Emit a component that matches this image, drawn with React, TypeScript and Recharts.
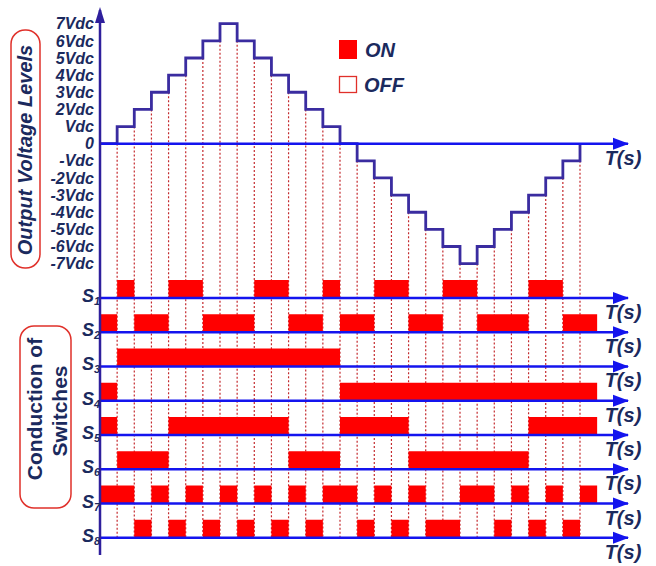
import React from "react";
import {
  ComposedChart,
  Line,
  Area,
  XAxis,
  YAxis,
  ReferenceLine,
  ReferenceDot,
} from "recharts";

// output level (in Vdc) for each time slot 0..28
const levels = [0, 1, 2, 3, 4, 5, 6, 7, 6, 5, 4, 3, 2, 1, 0, -1, -2, -3, -4, -5, -6, -7, -6, -5, -4, -3, -2, -1, 0];

// switch states per time slot (1 = ON)
const s1 = [0, 1, 0, 0, 1, 1, 0, 0, 0, 1, 1, 0, 0, 1, 0, 0, 1, 1, 0, 0, 1, 1, 0, 0, 0, 1, 1, 0, 0];
const s2 = [1, 0, 1, 1, 0, 0, 1, 1, 1, 0, 0, 1, 1, 0, 1, 1, 0, 0, 1, 1, 0, 0, 1, 1, 1, 0, 0, 1, 1];
const s3 = [0, 1, 1, 1, 1, 1, 1, 1, 1, 1, 1, 1, 1, 1, 0, 0, 0, 0, 0, 0, 0, 0, 0, 0, 0, 0, 0, 0, 0];
const s4 = [1, 0, 0, 0, 0, 0, 0, 0, 0, 0, 0, 0, 0, 0, 1, 1, 1, 1, 1, 1, 1, 1, 1, 1, 1, 1, 1, 1, 1];
const s5 = [1, 0, 0, 0, 1, 1, 1, 1, 1, 1, 1, 0, 0, 0, 1, 1, 1, 1, 0, 0, 0, 0, 0, 0, 0, 1, 1, 1, 1];
const s6 = [0, 1, 1, 1, 0, 0, 0, 0, 0, 0, 0, 1, 1, 1, 0, 0, 0, 0, 1, 1, 1, 1, 1, 1, 1, 0, 0, 0, 0];
const s7 = [1, 1, 0, 1, 0, 1, 0, 1, 0, 1, 0, 1, 0, 1, 1, 0, 1, 0, 1, 0, 0, 1, 1, 0, 1, 0, 1, 0, 1];
const s8 = [0, 0, 1, 0, 1, 0, 1, 0, 1, 0, 1, 0, 1, 0, 0, 1, 0, 1, 0, 1, 1, 0, 0, 1, 0, 1, 0, 1, 0];

const switches = [s1, s2, s3, s4, s5, s6, s7, s8];
const switchNames = ["1", "2", "3", "4", "5", "6", "7", "8"];

const levelTicks = [7, 6, 5, 4, 3, 2, 1, 0, -1, -2, -3, -4, -5, -6, -7];
const levelLabels = ["7Vdc", "6Vdc", "5Vdc", "4Vdc", "3Vdc", "2Vdc", "Vdc", "0", "-Vdc", "-2Vdc", "-3Vdc", "-4Vdc", "-5Vdc", "-6Vdc", "-7Vdc"];

const FONT = "'Liberation Sans', Arial, sans-serif";
const NAVY = "#1b2a5e";
const AXIS = "#2e1f9c";
const BLUE = "#1414ee";
const WAVE = "#3a2ca0";
const RED = "#ff0000";
const DOTTED = "#c42a2e";

const T_END = 30.8;
const Y_MIN = -24;
const Y_MAX = 7.8;
const PULSE = 1.05;
const rowBase = (i: number) => -9 - 2 * i;

const data = Array.from({ length: levels.length + 1 }, (_, k) => {
  const row: Record<string, any> = { t: k, v: k < levels.length ? levels[k] : null };
  switches.forEach((s, i) => {
    const on = s[k] ?? 0;
    row[`s${i + 1}`] = [rowBase(i), rowBase(i) + (on ? PULSE : 0)];
  });
  return row;
});

// transitions: dotted guide from lower corner of each step down to S8
const edges = levels.slice(1).map((v, i) => ({ t: i + 1, top: Math.min(levels[i], v) }));

const arrowRight = (p: any) => (
  <g>
    <polygon
      points={`${p.cx + 1},${p.cy} ${p.cx - 15},${p.cy - 6} ${p.cx - 15},${p.cy + 6}`}
      fill={BLUE}
    />
    <text
      x={p.cx - 5}
      y={p.cy + 21}
      textAnchor="middle"
      fill={NAVY}
      fontFamily={FONT}
      fontWeight={700}
      fontStyle="italic"
      fontSize={20}
    >
      T(s)
    </text>
  </g>
);

const arrowUp = (p: any) => (
  <polygon
    points={`${p.cx},${p.cy - 3} ${p.cx - 5},${p.cy + 13} ${p.cx + 5},${p.cy + 13}`}
    fill={AXIS}
  />
);

const switchLabel = (name: string) => (p: any) => (
  <text
    x={p.cx - 18}
    y={p.cy + 4}
    textAnchor="start"
    fill={NAVY}
    fontFamily={FONT}
    fontWeight={700}
    fontStyle="italic"
    fontSize={18}
  >
    S
    <tspan fontSize={11} dy={3}>
      {name}
    </tspan>
  </text>
);

export default function App() {
  return (
    <div style={{ position: "absolute", left: 0, top: 0, width: 656, height: 566, background: "#fff" }}>
      <ComposedChart
        width={656}
        height={566}
        data={data}
        margin={{ top: 10, right: 28, bottom: 11, left: 10 }}
      >
        <XAxis dataKey="t" type="number" domain={[0, T_END]} allowDataOverflow hide />
        <YAxis
          type="number"
          domain={[Y_MIN, Y_MAX]}
          allowDataOverflow
          ticks={levelTicks}
          interval={0}
          width={90}
          tickLine={false}
          tickSize={0}
          tickMargin={6}
          axisLine={{ stroke: AXIS, strokeWidth: 2.5 }}
          tickFormatter={(v) => levelLabels[levelTicks.indexOf(v)] ?? ""}
          tick={{ fill: NAVY, fontSize: 16, fontWeight: 700, fontStyle: "italic", fontFamily: FONT }}
        />

        {edges.map((e) => (
          <ReferenceLine
            key={`e${e.t}`}
            segment={[
              { x: e.t, y: e.top },
              { x: e.t, y: rowBase(7) },
            ]}
            stroke={DOTTED}
            strokeWidth={1.2}
            strokeDasharray="2 2"
            zIndex={10}
          />
        ))}

        {switches.map((_, i) => (
          <Area
            key={`a${i}`}
            dataKey={`s${i + 1}`}
            type="stepAfter"
            stroke="none"
            fill={RED}
            fillOpacity={1}
            dot={false}
            activeDot={false}
            isAnimationActive={false}
            zIndex={300}
          />
        ))}

        <ReferenceLine y={0} stroke={BLUE} strokeWidth={2.5} zIndex={350} />
        {switches.map((_, i) => (
          <ReferenceLine key={`b${i}`} y={rowBase(i)} stroke={BLUE} strokeWidth={2.5} zIndex={350} />
        ))}

        <Line
          dataKey="v"
          type="stepAfter"
          stroke={WAVE}
          strokeWidth={2.8}
          dot={false}
          activeDot={false}
          connectNulls={false}
          isAnimationActive={false}
          zIndex={320}
        />

        <ReferenceDot x={0} y={Y_MAX} r={0} shape={arrowUp} />
        <ReferenceDot x={T_END} y={0} r={0} shape={arrowRight} />
        {switches.map((_, i) => (
          <ReferenceDot key={`r${i}`} x={T_END} y={rowBase(i)} r={0} shape={arrowRight} />
        ))}
        {switchNames.map((n, i) => (
          <ReferenceDot key={`l${i}`} x={0} y={rowBase(i)} r={0} shape={switchLabel(n)} />
        ))}
      </ComposedChart>

      <svg
        width={656}
        height={566}
        style={{ position: "absolute", left: 0, top: 0, pointerEvents: "none" }}
      >
        <rect x={11} y={30} width={29} height={238} rx={14} fill="none" stroke="#e0302a" strokeWidth={1.5} />
        <text
          transform="translate(32,150) rotate(-90)"
          textAnchor="middle"
          fill={NAVY}
          fontFamily={FONT}
          fontWeight={700}
          fontStyle="italic"
          fontSize={20}
        >
          Output Voltage Levels
        </text>

        <rect x={20} y={326} width={51} height={182} rx={14} fill="none" stroke="#e0302a" strokeWidth={1.5} />
        <text
          transform="translate(42,409) rotate(-90)"
          textAnchor="middle"
          fill={NAVY}
          fontFamily={FONT}
          fontWeight={700}
          fontSize={21}
        >
          Conduction of
        </text>
        <text
          transform="translate(67,411) rotate(-90)"
          textAnchor="middle"
          fill={NAVY}
          fontFamily={FONT}
          fontWeight={700}
          fontSize={21}
        >
          Switches
        </text>

        <rect x={339} y={40} width={18} height={19} fill={RED} />
        <text x={365} y={57} fill={NAVY} fontFamily={FONT} fontWeight={700} fontStyle="italic" fontSize={20}>
          ON
        </text>
        <rect x={339.5} y={76.5} width={17} height={16} fill="#fff" stroke="#e0302a" strokeWidth={1.3} />
        <text x={364} y={92} fill={NAVY} fontFamily={FONT} fontWeight={700} fontStyle="italic" fontSize={20}>
          OFF
        </text>
      </svg>
    </div>
  );
}
